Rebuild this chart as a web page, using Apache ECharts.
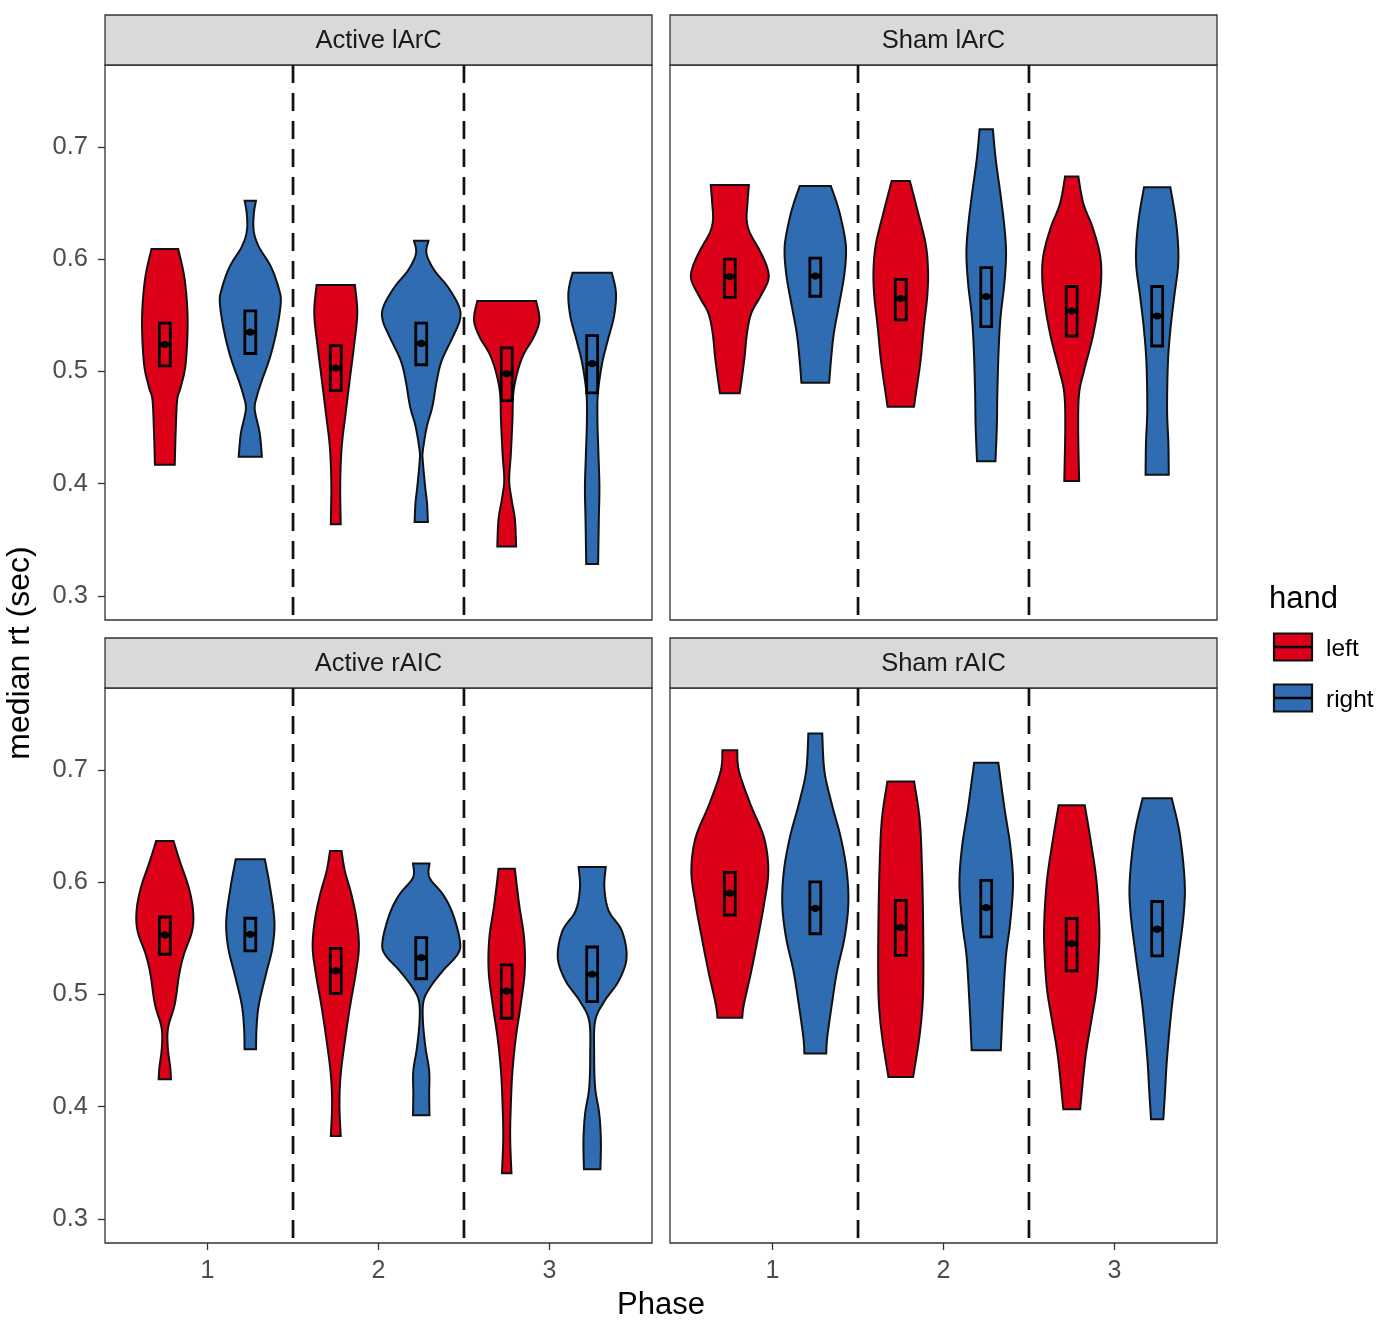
<!DOCTYPE html>
<html>
<head>
<meta charset="utf-8">
<title>median rt violins</title>
<style>
  html, body { margin: 0; padding: 0; background: #fff; }
  #main { width: 1400px; height: 1325px; }
</style>
<script src="https://cdn.jsdelivr.net/npm/echarts@6/dist/echarts.min.js"></script>
</head>
<body>
<div id="main"></div>
<script>
// facet order: top-left, top-right, bottom-left, bottom-right
var facetNames = ['Active lArC', 'Sham lArC', 'Active rAIC', 'Sham rAIC'];
var phases = [1, 2, 3];
var hands = ['left', 'right'];
var handColors = ['#DC0019', '#2F6CB1'];
var yTicks = [0.3, 0.4, 0.5, 0.6, 0.7];

// violin outlines: [rt, density], bottom to top
// each facet: p1 left, p1 right, p2 left, p2 right, p3 left, p3 right
var activeLArC = [
  [[0.417, 10], [0.448, 11], [0.475, 12.5], [0.486, 16], [0.507, 21], [0.546, 23], [0.582, 20], [0.609, 13.5]],
  [[0.424, 11.7], [0.445, 9.5], [0.466, 4.5], [0.478, 6.7], [0.492, 11.7], [0.513, 20], [0.537, 26.7], [0.561, 30.7], [0.573, 29], [0.593, 21], [0.611, 8.7], [0.625, 3.5], [0.640, 3.5], [0.652, 5.7]],
  [[0.364, 5], [0.400, 4.5], [0.433, 6], [0.463, 10], [0.492, 14], [0.522, 18.3], [0.552, 21.7], [0.577, 19.3]],
  [[0.366, 6.7], [0.383, 5.8], [0.397, 4], [0.421, 1.5], [0.430, 1.7], [0.451, 5.7], [0.469, 11.3], [0.492, 15.7], [0.510, 20.8], [0.531, 32], [0.546, 39], [0.558, 38], [0.5755, 26.7], [0.590, 13.3], [0.605, 5.3], [0.6165, 7.3]],
  [[0.344, 9.5], [0.368, 8.3], [0.3855, 5], [0.403, 2.5], [0.427, 4.2], [0.457, 5.8], [0.481, 6.7], [0.501, 11.3], [0.516, 17.5], [0.531, 27.5], [0.546, 33], [0.5628, 29.7]],
  [[0.3285, 6], [0.368, 6.7], [0.397, 7.3], [0.427, 6.3], [0.457, 5.3], [0.481, 5.8], [0.507, 10], [0.528, 15.8], [0.549, 22], [0.570, 24], [0.588, 19.8]]
];
var shamLArC = [
  [[0.4806, 10], [0.510, 14.5], [0.534, 17.3], [0.552, 21.7], [0.5667, 30.8], [0.5815, 38.8], [0.593, 37.5], [0.608, 30], [0.623, 20.5], [0.635, 17], [0.650, 17.8], [0.666, 19.2]],
  [[0.490, 14], [0.510, 15.8], [0.534, 18.7], [0.561, 24.3], [0.5845, 29], [0.605, 31], [0.620, 29.7], [0.644, 23.7], [0.6653, 15.7]],
  [[0.4686, 13.3], [0.4806, 15.3], [0.510, 20], [0.540, 23.3], [0.567, 26.7], [0.590, 27.5], [0.614, 25], [0.644, 16.7], [0.6697, 9.2]],
  [[0.420, 9.3], [0.451, 10.7], [0.4806, 11.2], [0.519, 12.5], [0.549, 14.5], [0.5786, 18.3], [0.605, 20], [0.629, 18.3], [0.659, 14.2], [0.688, 9.7], [0.7158, 6.7]],
  [[0.4025, 7.5], [0.451, 6.5], [0.4806, 7.5], [0.501, 12.5], [0.531, 21.2], [0.5608, 27.2], [0.5845, 29.8], [0.605, 28.3], [0.629, 20.8], [0.6497, 11.7], [0.6736, 6.7]],
  [[0.408, 11.7], [0.436, 11.3], [0.4657, 10], [0.507, 10.8], [0.537, 13.3], [0.5667, 17.2], [0.593, 21], [0.614, 21], [0.638, 18.3], [0.664, 13.3]]
];
var activeRAIC = [
  [[0.4245, 6.2], [0.4348, 5.5], [0.4526, 3], [0.4704, 3.3], [0.4913, 10], [0.518, 14.5], [0.5358, 19.3], [0.5566, 27.5], [0.5744, 28.5], [0.595, 24.2], [0.619, 15], [0.6367, 8.8]],
  [[0.4511, 5.8], [0.4704, 6.3], [0.4913, 8.7], [0.518, 15.8], [0.5417, 22.3], [0.5655, 24.3], [0.595, 20], [0.6204, 14.7]],
  [[0.374, 5], [0.4022, 3.7], [0.4289, 5], [0.4586, 9.2], [0.4884, 14.2], [0.518, 20], [0.5417, 23.3], [0.5655, 21.2], [0.589, 15.8], [0.610, 9.2], [0.6278, 5.8]],
  [[0.3924, 8.3], [0.411, 8], [0.4318, 8], [0.4526, 4.3], [0.4764, 1.7], [0.494, 2.3], [0.506, 8.7], [0.521, 21.7], [0.5358, 36.7], [0.5477, 39], [0.5714, 32], [0.589, 22], [0.604, 8.3], [0.6166, 8.3]],
  [[0.3407, 4.8], [0.3724, 3.5], [0.4022, 4.2], [0.4318, 5.8], [0.4615, 9.2], [0.4913, 14.2], [0.521, 18.2], [0.5506, 17.5], [0.5804, 12.5], [0.612, 8.2]],
  [[0.3443, 8.3], [0.3695, 8.8], [0.3933, 7.2], [0.417, 3], [0.4467, 2], [0.4764, 3], [0.4942, 12.5], [0.512, 26.7], [0.5328, 34.7], [0.5566, 30], [0.5744, 16.7], [0.595, 12.3], [0.6136, 13.7]]
];
var shamRAIC = [
  [[0.4793, 12.5], [0.4913, 14.2], [0.521, 21.7], [0.5506, 28.3], [0.5804, 34.5], [0.610, 38.8], [0.6397, 34.5], [0.6694, 20.8], [0.699, 9.2], [0.7176, 7.5]],
  [[0.4473, 11], [0.4615, 12], [0.4913, 16.7], [0.521, 22], [0.5506, 29.5], [0.5804, 33.3], [0.610, 31.7], [0.6397, 25.7], [0.6694, 16.7], [0.699, 9.2], [0.7325, 7]],
  [[0.4265, 12.5], [0.4615, 18.7], [0.4913, 22], [0.521, 22.8], [0.5655, 22.5], [0.610, 21.5], [0.6546, 19.2], [0.6896, 13.5]],
  [[0.4503, 14.7], [0.4884, 16.7], [0.5328, 19.7], [0.5625, 24], [0.5982, 27], [0.6308, 24.5], [0.6665, 18.3], [0.7065, 12.2]],
  [[0.3977, 8.5], [0.4437, 13.8], [0.4735, 19.2], [0.5031, 24.7], [0.5328, 27.2], [0.5625, 27.8], [0.6011, 25], [0.6367, 19.2], [0.6685, 13.2]],
  [[0.3888, 6.2], [0.414, 8], [0.4437, 10], [0.4884, 14.7], [0.5328, 21.3], [0.5714, 26.7], [0.6011, 27.7], [0.6427, 22.8], [0.6748, 14.7]]
];

// boxes: [q1, median, q3]
var activeLArCBox = [[0.505, 0.524, 0.543], [0.516, 0.535, 0.554], [0.483, 0.503, 0.523], [0.506, 0.525, 0.543], [0.474, 0.498, 0.521], [0.481, 0.507, 0.532]];
var shamLArCBox = [[0.566, 0.5845, 0.600], [0.567, 0.585, 0.601], [0.546, 0.565, 0.582], [0.540, 0.5667, 0.5925], [0.5316, 0.5539, 0.5757], [0.5227, 0.5494, 0.5757]];
var activeRAICBox = [[0.5358, 0.553, 0.569], [0.5388, 0.5536, 0.5679], [0.501, 0.521, 0.541], [0.514, 0.5328, 0.5506], [0.4788, 0.5031, 0.5263], [0.4936, 0.518, 0.5423]];
var shamRAICBox = [[0.5708, 0.5902, 0.6087], [0.5541, 0.5767, 0.6003], [0.5349, 0.5597, 0.5839], [0.5513, 0.5773, 0.6017], [0.521, 0.5453, 0.5675], [0.5344, 0.5582, 0.5828]];

var facetViolins = [activeLArC, shamLArC, activeRAIC, shamRAIC];
var facetBoxes = [activeLArCBox, shamLArCBox, activeRAICBox, shamRAICBox];

var xMin = 0.4, xMax = 3.6;
var yMin = 0.2786, yMax = 0.773;
var densScale = 0.0058;   // density -> half width in phase units
var dodge = 0.25;
var boxHalf = 0.032;
var font = 'Liberation Sans, Arial, sans-serif';

var grids = [
  { left: 105, top: 65, width: 547, height: 555 },
  { left: 670, top: 65, width: 547, height: 555 },
  { left: 105, top: 688, width: 547, height: 555 },
  { left: 670, top: 688, width: 547, height: 555 }
];

// catmull-rom through the knots so the edge is smooth
function smoothEdge(knots) {
  var out = [];
  var n = knots.length;
  for (var i = 0; i < n - 1; i++) {
    var p0 = knots[Math.max(i - 1, 0)], p1 = knots[i], p2 = knots[i + 1], p3 = knots[Math.min(i + 2, n - 1)];
    for (var s = 0; s < 8; s++) {
      var t = s / 8, t2 = t * t, t3 = t2 * t;
      var pt = [0, 1].map(function (d) {
        return 0.5 * (2 * p1[d] + (-p0[d] + p2[d]) * t +
          (2 * p0[d] - 5 * p1[d] + 4 * p2[d] - p3[d]) * t2 +
          (-p0[d] + 3 * p1[d] - 3 * p2[d] + p3[d]) * t3);
      });
      pt[1] = Math.max(pt[1], 0.8);
      out.push(pt);
    }
  }
  out.push(knots[n - 1]);
  return out;
}

function violinSeries(k) {
  var violins = facetViolins[k];
  var boxes = facetBoxes[k];
  var data = violins.map(function (v, i) {
    var phase = phases[Math.floor(i / 2)];
    var off = (i % 2 === 0) ? -dodge : dodge;
    return [phase + off, boxes[i][1], i];
  });
  return {
    type: 'custom',
    name: facetNames[k],
    xAxisIndex: k,
    yAxisIndex: k,
    data: data,
    encode: { x: 0, y: 1 },
    renderItem: function (params, api) {
      var i = api.value(2);
      var xc = api.value(0);
      var edge = smoothEdge(violins[i]);
      var pts = [];
      edge.forEach(function (p) { pts.push(api.coord([xc + p[1] * densScale, p[0]])); });
      for (var j = edge.length - 1; j >= 0; j--) {
        pts.push(api.coord([xc - edge[j][1] * densScale, edge[j][0]]));
      }
      var b = boxes[i];
      var tl = api.coord([xc - boxHalf, b[2]]);
      var br = api.coord([xc + boxHalf, b[0]]);
      var m = api.coord([xc, b[1]]);
      return {
        type: 'group',
        children: [
          {
            type: 'polygon',
            shape: { points: pts },
            style: { fill: handColors[i % 2], stroke: '#111', lineWidth: 2 }
          },
          {
            type: 'rect',
            shape: { x: tl[0], y: tl[1], width: br[0] - tl[0], height: br[1] - tl[1] },
            style: { fill: null, stroke: '#000', lineWidth: 2.8 }
          },
          {
            type: 'rect',
            shape: { x: tl[0], y: m[1] - 2.2, width: br[0] - tl[0], height: 4.4 },
            style: { fill: '#000' }
          },
          {
            type: 'circle',
            shape: { cx: m[0], cy: m[1], r: 3.6 },
            style: { fill: '#000' }
          }
        ]
      };
    }
  };
}

// dashed separators between phases
function dividerSeries(k) {
  return {
    type: 'custom',
    xAxisIndex: k,
    yAxisIndex: k,
    data: [[1.5, 0.5], [2.5, 0.5]],
    encode: { x: 0, y: 1 },
    silent: true,
    renderItem: function (params, api) {
      var top = api.coord([api.value(0), yMax]);
      var bot = api.coord([api.value(0), yMin]);
      return {
        type: 'line',
        shape: { x1: top[0], y1: top[1], x2: bot[0], y2: bot[1] },
        style: { stroke: '#111', lineWidth: 2.7, lineDash: [18, 10] }
      };
    }
  };
}

var xAxes = grids.map(function (g, k) {
  var bottom = k >= 2;
  return {
    type: 'value', gridIndex: k, min: xMin, max: xMax,
    axisLine: { show: false },
    splitLine: { show: false },
    axisTick: { show: bottom, length: 7, customValues: phases, lineStyle: { color: '#333', width: 1.3 } },
    axisLabel: { show: bottom, customValues: phases, color: '#4d4d4d', fontSize: 25, fontFamily: font, margin: 16 }
  };
});
var yAxes = grids.map(function (g, k) {
  var left = k % 2 === 0;
  return {
    type: 'value', gridIndex: k, min: yMin, max: yMax,
    axisLine: { show: false },
    splitLine: { show: false },
    axisTick: { show: left, length: 7, customValues: yTicks, lineStyle: { color: '#333', width: 1.3 } },
    axisLabel: {
      show: left, customValues: yTicks, color: '#4d4d4d', fontSize: 25.5, fontFamily: font, margin: 17,
      formatter: function (v) { return v.toFixed(1); }
    }
  };
});

var series = [];
grids.forEach(function (g, k) {
  series.push(dividerSeries(k));
  series.push(violinSeries(k));
});

// strips, axis titles, legend
var graphics = [];
grids.forEach(function (g, k) {
  graphics.push({
    type: 'rect',
    shape: { x: g.left, y: g.top - 50, width: g.width, height: 50 },
    style: { fill: '#d9d9d9', stroke: '#333', lineWidth: 1.3 }
  });
  graphics.push({
    type: 'text',
    x: g.left + g.width / 2, y: g.top - 24,
    style: { text: facetNames[k], fill: '#1a1a1a', fontSize: 25.5, fontFamily: font, align: 'center', verticalAlign: 'middle' }
  });
});
graphics.push({
  type: 'text', x: 20, y: 653, rotation: Math.PI / 2,
  style: { text: 'median rt (sec)', fill: '#000', fontSize: 32, fontFamily: font, align: 'center', verticalAlign: 'middle' }
});
graphics.push({
  type: 'text', x: 661, y: 1305,
  style: { text: 'Phase', fill: '#000', fontSize: 31, fontFamily: font, align: 'center', verticalAlign: 'middle' }
});
graphics.push({
  type: 'text', x: 1269, y: 599,
  style: { text: 'hand', fill: '#000', fontSize: 31, fontFamily: font, align: 'left', verticalAlign: 'middle' }
});
hands.forEach(function (h, i) {
  var cy = 647 + i * 51;
  graphics.push({
    type: 'rect',
    shape: { x: 1274, y: cy - 13.5, width: 38, height: 27 },
    style: { fill: handColors[i], stroke: '#111', lineWidth: 2.2 }
  });
  graphics.push({
    type: 'line',
    shape: { x1: 1274, y1: cy, x2: 1312, y2: cy },
    style: { stroke: '#000', lineWidth: 2.6 }
  });
  graphics.push({
    type: 'text', x: 1326, y: cy + 2,
    style: { text: h, fill: '#000', fontSize: 24.5, fontFamily: font, align: 'left', verticalAlign: 'middle' }
  });
});

var option = {
  backgroundColor: '#fff',
  animation: false,
  grid: grids.map(function (g) {
    return { left: g.left, top: g.top, width: g.width, height: g.height, show: true, borderColor: '#333', borderWidth: 1.3, backgroundColor: '#fff' };
  }),
  xAxis: xAxes,
  yAxis: yAxes,
  series: series,
  graphic: graphics
};

var myChart = echarts.init(document.getElementById('main'));
myChart.setOption(option);
</script>
</body>
</html>
